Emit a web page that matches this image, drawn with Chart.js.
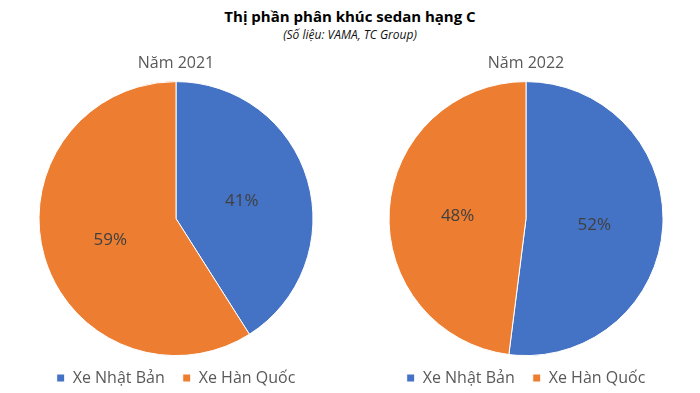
<!DOCTYPE html>
<html>
<head>
<meta charset="utf-8">
<script src="https://cdn.jsdelivr.net/npm/chart.js@4/dist/chart.umd.min.js"></script>
<style>
    body { margin: 0; background: #fff; width: 700px; height: 393px; overflow: hidden; font-family: "Open Sans", sans-serif; }
    .head { position: absolute; left: 0; top: 6px; width: 700px; text-align: center; color: #000; }
    .head h1 { margin: 0; font-size: 15px; font-weight: bold; line-height: 20px; }
    .head p { margin: 0; margin-top: 1px; font-size: 12px; font-style: italic; line-height: 16px; color: #111; }
    .box { position: absolute; top: 48px; width: 350px; height: 348px; }
</style>
</head>
<body>
<div class="head">
    <h1>Thị phần phân khúc sedan hạng C</h1>
    <p>(Số liệu: VAMA, TC Group)</p>
</div>
<div class="box" style="left:1px"><canvas id="pie2021"></canvas></div>
<div class="box" style="left:351px"><canvas id="pie2022"></canvas></div>
<script>
// Market share data
const categories = ['Xe Nhật Bản', 'Xe Hàn Quốc'];
const share2021 = [41, 59];
const share2022 = [52, 48];
const colors = ['#4472C4', '#ED7D31'];

// draw percent labels at half radius
const pctLabels = {
    id: 'pctLabels',
    afterDatasetsDraw(chart) {
        const ctx = chart.ctx;
        const meta = chart.getDatasetMeta(0);
        const data = chart.data.datasets[0].data;
        ctx.save();
        ctx.font = '17px "Open Sans", sans-serif';
        ctx.fillStyle = '#404040';
        ctx.textAlign = 'center';
        ctx.textBaseline = 'middle';
        meta.data.forEach((arc, i) => {
            const mid = (arc.startAngle + arc.endAngle) / 2;
            const r = arc.outerRadius * 0.5;
            ctx.fillText(data[i] + '%', arc.x + Math.cos(mid) * r, arc.y + Math.sin(mid) * r + 2);
        });
        ctx.restore();
    }
};

function makePie(id, title, values) {
    return new Chart(document.getElementById(id), {
        type: 'pie',
        data: {
            labels: categories,
            datasets: [{
                data: values,
                backgroundColor: colors,
                borderColor: '#fff',
                borderWidth: 1,
                radius: 137
            }]
        },
        options: {
            responsive: true,
            maintainAspectRatio: false,
            animation: false,
            plugins: {
                title: {
                    display: true,
                    text: title,
                    color: '#595959',
                    font: { family: '"Open Sans", sans-serif', size: 16, weight: 'normal' },
                    padding: { top: 6, bottom: 12 }
                },
                legend: {
                    position: 'bottom',
                    labels: {
                        color: '#595959',
                        font: { family: '"Open Sans", sans-serif', size: 16 },
                        usePointStyle: true,
                        pointStyle: 'rect',
                        boxWidth: 8,
                        boxHeight: 8,
                        padding: 18
                    }
                },
                tooltip: { enabled: false }
            }
        },
        plugins: [pctLabels]
    });
}

makePie('pie2021', 'Năm 2021', share2021);
makePie('pie2022', 'Năm 2022', share2022);
</script>
</body>
</html>
